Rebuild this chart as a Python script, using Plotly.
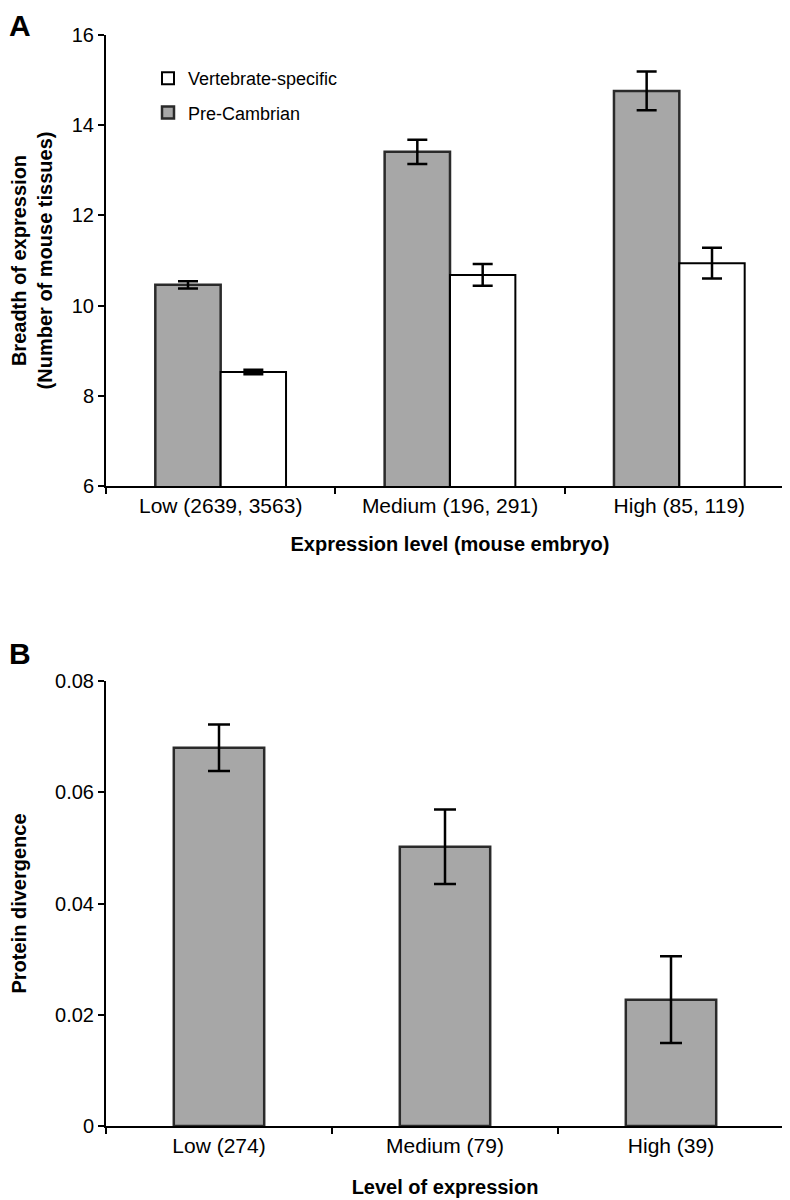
import plotly.graph_objects as go

# ---- data ----
categories_a = ["Low (2639, 3563)", "Medium (196, 291)", "High (85, 119)"]
precambrian = [10.46, 13.41, 14.76]
precambrian_err = [0.08, 0.27, 0.43]
vertebrate = [8.53, 10.68, 10.94]
vertebrate_err = [0.05, 0.24, 0.34]

categories_b = ["Low (274)", "Medium (79)", "High (39)"]
divergence = [0.068, 0.0502, 0.0227]
divergence_err = [0.0042, 0.0067, 0.0078]

yticks_a = [6, 8, 10, 12, 14, 16]
yticks_b = [0, 0.02, 0.04, 0.06, 0.08]
yticklabels_b = ["0", "0.02", "0.04", "0.06", "0.08"]

FONT = "Liberation Sans, Arial, sans-serif"
GRAY = "#a7a7a7"
EDGE = "#2a2a2a"

fig = go.Figure()

fig.add_trace(go.Bar(
    x=categories_a, y=precambrian, name="Pre-Cambrian",
    width=0.285, offset=-0.285, legendrank=2,
    marker=dict(color=GRAY, line=dict(color=EDGE, width=2.5)),
    error_y=dict(type="data", array=precambrian_err, color="black", thickness=2.5, width=10),
    xaxis="x", yaxis="y", legendgroup="p",
))
fig.add_trace(go.Bar(
    x=categories_a, y=vertebrate, name="Vertebrate-specific",
    width=0.285, offset=0, legendrank=1,
    marker=dict(color="white", line=dict(color="black", width=2)),
    error_y=dict(type="data", array=vertebrate_err, color="black", thickness=2.5, width=10),
    xaxis="x", yaxis="y", legendgroup="v",
))
fig.add_trace(go.Bar(
    x=categories_b, y=divergence, name="Protein divergence",
    width=0.4, offset=-0.2, showlegend=False,
    marker=dict(color=GRAY, line=dict(color=EDGE, width=2.5)),
    error_y=dict(type="data", array=divergence_err, color="black", thickness=2.5, width=11),
    xaxis="x2", yaxis="y2",
))

axis_common = dict(
    showline=True, linecolor="black", linewidth=2,
    ticks="outside", ticklen=6, tickwidth=2, tickcolor="black",
    showgrid=False, zeroline=False, automargin=False,
)
yfont = dict(family=FONT, size=20, color="black")
xfont = dict(family=FONT, size=21, color="black")
tfont = dict(family=FONT, size=20, color="black")

fig.update_layout(
    width=790, height=1200,
    margin=dict(l=98, r=4, t=27, b=82),
    paper_bgcolor="white", plot_bgcolor="white",
    barmode="overlay",
    font=dict(family=FONT, color="black"),
    showlegend=True,
    legend=dict(
        x=(140 - 98) / 688, y=(1118 - 52) / 1091, xanchor="left", yanchor="top",
        traceorder="grouped", tracegroupgap=8,
        font=dict(family=FONT, size=18, color="black"),
        bgcolor="rgba(0,0,0,0)",
    ),
    xaxis=dict(
        **axis_common, tickfont=xfont, type="category", tickson="boundaries",
        domain=[0, 1], anchor="y",
        title=dict(text="<b>Expression level (mouse embryo)</b>", standoff=21, font=tfont),
    ),
    yaxis=dict(
        **axis_common, tickfont=yfont, domain=[(1118 - 478) / 1091, 1], range=[6, 16],
        tickvals=yticks_a, anchor="x",
        title=dict(text="<b>Breadth of expression<br>(Number of mouse tissues)</b>", standoff=22, font=tfont),
    ),
    xaxis2=dict(
        **axis_common, tickfont=xfont, type="category", tickson="boundaries",
        domain=[0, 678 / 688], anchor="y2",
        title=dict(text="<b>Level of expression</b>", standoff=24, font=tfont),
    ),
    yaxis2=dict(
        **axis_common, tickfont=yfont, domain=[0, 445 / 1091], range=[0, 0.08],
        tickvals=yticks_b, ticktext=yticklabels_b, anchor="x2",
        title=dict(text="<b>Protein divergence</b>", standoff=24, font=tfont),
    ),
    annotations=[
        dict(text="<b>A</b>", xref="paper", yref="paper",
             x=(0 - 98) / 688, y=(1118 - 0) / 1091, xanchor="left", yanchor="top",
             borderpad=0, showarrow=False, font=dict(family=FONT, size=30, color="black")),
        dict(text="<b>B</b>", xref="paper", yref="paper",
             x=(0 - 98) / 688, y=(1118 - 645) / 1091, xanchor="left", yanchor="middle",
             borderpad=0, showarrow=False, font=dict(family=FONT, size=30, color="black")),
    ],
)

fig.write_html("out.html")
